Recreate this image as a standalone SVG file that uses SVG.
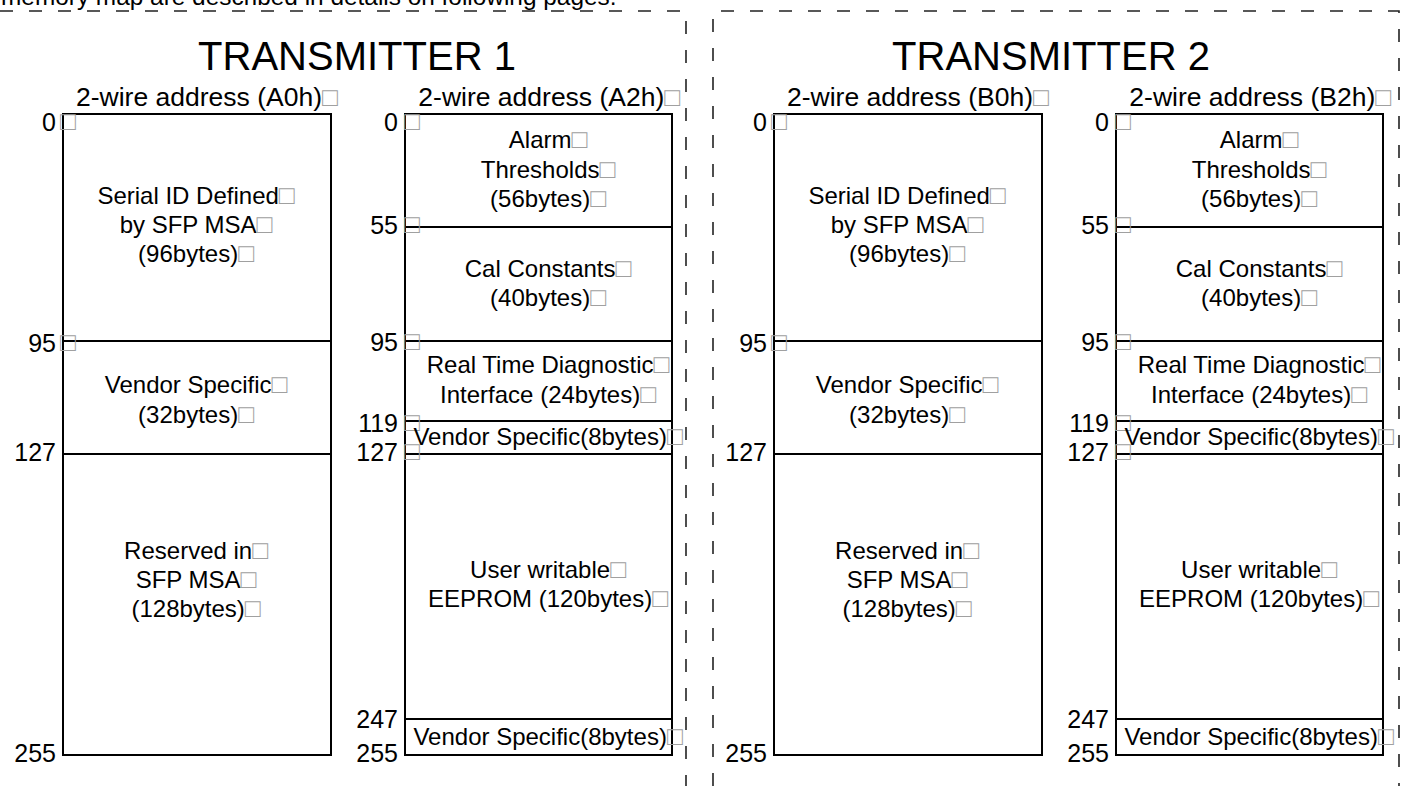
<svg xmlns="http://www.w3.org/2000/svg" width="1408" height="786" viewBox="0 0 1408 786">
<style>
text{font-family:"Liberation Sans",Arial,Helvetica,sans-serif;fill:#000}
.t{font-size:24px;text-anchor:middle}
.n{font-size:25px;text-anchor:end}
.h{font-size:26.5px}
.big{font-size:40px;text-anchor:middle}
.q{fill:#a0a0a0;font-size:26px}
.box{fill:#fff;stroke:#000;stroke-width:2}
.div{stroke:#000;stroke-width:2}
.dash{fill:none;stroke:#222;stroke-width:1.6;stroke-dasharray:13 16}
</style>
<rect width="1408" height="786" fill="#fff"/>
<text x="1" y="5" style="font-size:24.4px">memory map are described in details on following pages.</text>
<g id="frames">
<path class="dash" d="M0 11H686V786"/>
<path class="dash" d="M713 786V11H1399V786"/>
</g>
<g id="title1"><text class="big" x="357" y="70">TRANSMITTER 1</text></g>
<g id="title2"><text class="big" x="1051" y="70">TRANSMITTER 2</text></g>

<g id="mapA0">
<text class="h" x="76" y="106">2-wire address (A0h)<tspan class="q">□</tspan></text>
<rect class="box" x="63" y="114" width="268" height="641"/>
<line class="div" x1="63" y1="341" x2="331" y2="341"/>
<line class="div" x1="63" y1="454" x2="331" y2="454"/>
<text class="n" x="56" y="131">0</text><text class="q" x="60" y="130">□</text>
<text class="n" x="56" y="352">95</text><text class="q" x="60" y="351">□</text>
<text class="n" x="56" y="461">127</text>
<text class="n" x="56" y="762">255</text>
<text class="t" x="196" y="204">Serial ID Defined<tspan class="q">□</tspan></text>
<text class="t" x="196" y="233">by SFP MSA<tspan class="q">□</tspan></text>
<text class="t" x="196" y="262">(96bytes)<tspan class="q">□</tspan></text>
<text class="t" x="196" y="393">Vendor Specific<tspan class="q">□</tspan></text>
<text class="t" x="196" y="423">(32bytes)<tspan class="q">□</tspan></text>
<text class="t" x="196" y="559">Reserved in<tspan class="q">□</tspan></text>
<text class="t" x="196" y="588">SFP MSA<tspan class="q">□</tspan></text>
<text class="t" x="196" y="617">(128bytes)<tspan class="q">□</tspan></text>
</g>

<g id="mapA2">
<text class="h" x="680" y="106" text-anchor="end">2-wire address (A2h)<tspan class="q">□</tspan></text>
<rect class="box" x="405" y="114" width="267" height="641"/>
<line class="div" x1="405" y1="227" x2="672" y2="227"/>
<line class="div" x1="405" y1="341" x2="673" y2="341"/>
<line class="div" x1="405" y1="421" x2="672" y2="421"/>
<line class="div" x1="405" y1="454" x2="672" y2="454"/>
<line class="div" x1="405" y1="719" x2="672" y2="719"/>
<text class="n" x="398" y="131">0</text><text class="q" x="404" y="130">□</text>
<text class="n" x="398" y="234">55</text><text class="q" x="404" y="233">□</text>
<text class="n" x="398" y="351">95</text><text class="q" x="404" y="350">□</text>
<text class="n" x="398" y="432">119</text><text class="q" x="404" y="431">□</text>
<text class="n" x="398" y="461">127</text><text class="q" x="404" y="460">□</text>
<text class="n" x="398" y="728">247</text>
<text class="n" x="398" y="762">255</text>
<text class="t" x="548" y="148">Alarm<tspan class="q">□</tspan></text>
<text class="t" x="548" y="178">Thresholds<tspan class="q">□</tspan></text>
<text class="t" x="548" y="207">(56bytes)<tspan class="q">□</tspan></text>
<text class="t" x="548" y="277">Cal Constants<tspan class="q">□</tspan></text>
<text class="t" x="548" y="306">(40bytes)<tspan class="q">□</tspan></text>
<text class="t" x="548" y="373">Real Time Diagnostic<tspan class="q">□</tspan></text>
<text class="t" x="548" y="403">Interface (24bytes)<tspan class="q">□</tspan></text>
<text class="t" x="548" y="445">Vendor Specific(8bytes)<tspan class="q">□</tspan></text>
<text class="t" x="548" y="578">User writable<tspan class="q">□</tspan></text>
<text class="t" x="548" y="607">EEPROM (120bytes)<tspan class="q">□</tspan></text>
<text class="t" x="548" y="745">Vendor Specific(8bytes)<tspan class="q">□</tspan></text>
</g>

<g id="mapB0">
<text class="h" x="787" y="106">2-wire address (B0h)<tspan class="q">□</tspan></text>
<rect class="box" x="774" y="114" width="268" height="641"/>
<line class="div" x1="774" y1="341" x2="1042" y2="341"/>
<line class="div" x1="774" y1="454" x2="1042" y2="454"/>
<text class="n" x="767" y="131">0</text><text class="q" x="771" y="130">□</text>
<text class="n" x="767" y="352">95</text><text class="q" x="771" y="351">□</text>
<text class="n" x="767" y="461">127</text>
<text class="n" x="767" y="762">255</text>
<text class="t" x="907" y="204">Serial ID Defined<tspan class="q">□</tspan></text>
<text class="t" x="907" y="233">by SFP MSA<tspan class="q">□</tspan></text>
<text class="t" x="907" y="262">(96bytes)<tspan class="q">□</tspan></text>
<text class="t" x="907" y="393">Vendor Specific<tspan class="q">□</tspan></text>
<text class="t" x="907" y="423">(32bytes)<tspan class="q">□</tspan></text>
<text class="t" x="907" y="559">Reserved in<tspan class="q">□</tspan></text>
<text class="t" x="907" y="588">SFP MSA<tspan class="q">□</tspan></text>
<text class="t" x="907" y="617">(128bytes)<tspan class="q">□</tspan></text>
</g>

<g id="mapB2">
<text class="h" x="1391" y="106" text-anchor="end">2-wire address (B2h)<tspan class="q">□</tspan></text>
<rect class="box" x="1116" y="114" width="267" height="641"/>
<line class="div" x1="1116" y1="227" x2="1383" y2="227"/>
<line class="div" x1="1116" y1="341" x2="1384" y2="341"/>
<line class="div" x1="1116" y1="421" x2="1383" y2="421"/>
<line class="div" x1="1116" y1="454" x2="1383" y2="454"/>
<line class="div" x1="1116" y1="719" x2="1383" y2="719"/>
<text class="n" x="1109" y="131">0</text><text class="q" x="1115" y="130">□</text>
<text class="n" x="1109" y="234">55</text><text class="q" x="1115" y="233">□</text>
<text class="n" x="1109" y="351">95</text><text class="q" x="1115" y="350">□</text>
<text class="n" x="1109" y="432">119</text><text class="q" x="1115" y="431">□</text>
<text class="n" x="1109" y="461">127</text><text class="q" x="1115" y="460">□</text>
<text class="n" x="1109" y="728">247</text>
<text class="n" x="1109" y="762">255</text>
<text class="t" x="1259" y="148">Alarm<tspan class="q">□</tspan></text>
<text class="t" x="1259" y="178">Thresholds<tspan class="q">□</tspan></text>
<text class="t" x="1259" y="207">(56bytes)<tspan class="q">□</tspan></text>
<text class="t" x="1259" y="277">Cal Constants<tspan class="q">□</tspan></text>
<text class="t" x="1259" y="306">(40bytes)<tspan class="q">□</tspan></text>
<text class="t" x="1259" y="373">Real Time Diagnostic<tspan class="q">□</tspan></text>
<text class="t" x="1259" y="403">Interface (24bytes)<tspan class="q">□</tspan></text>
<text class="t" x="1259" y="445">Vendor Specific(8bytes)<tspan class="q">□</tspan></text>
<text class="t" x="1259" y="578">User writable<tspan class="q">□</tspan></text>
<text class="t" x="1259" y="607">EEPROM (120bytes)<tspan class="q">□</tspan></text>
<text class="t" x="1259" y="745">Vendor Specific(8bytes)<tspan class="q">□</tspan></text>
</g>
</svg>
